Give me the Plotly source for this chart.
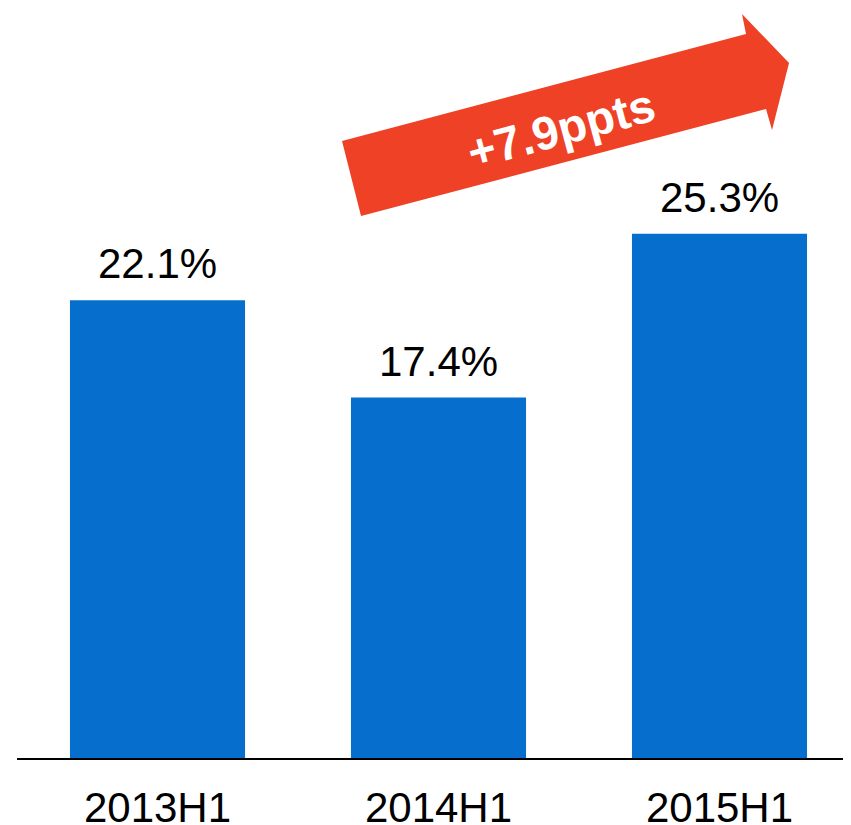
import plotly.graph_objects as go

categories = ["2013H1", "2014H1", "2015H1"]
values = [22.1, 17.4, 25.3]
value_labels = ["22.1%", "17.4%", "25.3%"]
change_label = "+7.9ppts"

OFF = 8  # page body margin
W, H = 851 - OFF, 825 - OFF
ML, MR, MT, MB = 17 - OFF, 0, 0, 67
pw, ph = W - ML - MR, H - MT - MB

def px(x, y):
    # convert page pixel position to paper coordinates
    x, y = x - OFF, y - OFF
    return (x - ML) / pw, (H - MB - y) / ph

# arrow outline (pixel positions in the picture)
arrow_pts = [(342, 141), (746, 34), (742, 14), (789, 63), (772, 130), (766, 109), (361, 216)]
path = ""
for i, (x, y) in enumerate(arrow_pts):
    a, b = px(x, y)
    path += ("M" if i == 0 else "L") + f"{a:.4f},{b:.4f} "
path += "Z"

fig = go.Figure()
fig.add_trace(go.Bar(
    x=categories, y=values,
    marker=dict(color="#066ECC", line=dict(width=0)),
    hoverinfo="skip",
))

for c, v, t in zip(categories, values, value_labels):
    fig.add_annotation(x=c, y=v, text=t, showarrow=False, yanchor="bottom", yshift=11,
                       font=dict(family="Liberation Sans, Arial", size=42, color="#000000"))

fig.add_shape(type="path", xref="paper", yref="paper", path=path,
              fillcolor="#EF4125", line=dict(width=0), layer="above")

tx, ty = px(561, 128)
fig.add_annotation(xref="paper", yref="paper", x=tx, y=ty, text=change_label, showarrow=False,
                   textangle=-15, xanchor="center", yanchor="middle",
                   font=dict(family="Liberation Sans, Arial", size=47, color="#FFFFFF", weight="bold"))

fig.update_layout(
    width=W, height=H,
    margin=dict(l=ML, r=MR, t=MT, b=MB),
    paper_bgcolor="white", plot_bgcolor="white",
    bargap=0.377,
    showlegend=False,
    xaxis=dict(range=[-0.5, 2.468], showgrid=False, zeroline=False, automargin=False,
               showline=True, linecolor="#000000", linewidth=1.5,
               ticks="", ticklabelstandoff=12,
               tickfont=dict(family="Liberation Sans, Arial", size=42, color="#000000")),
    yaxis=dict(range=[0, 36.2], visible=False, automargin=False),
)

fig.write_html("out.html")
